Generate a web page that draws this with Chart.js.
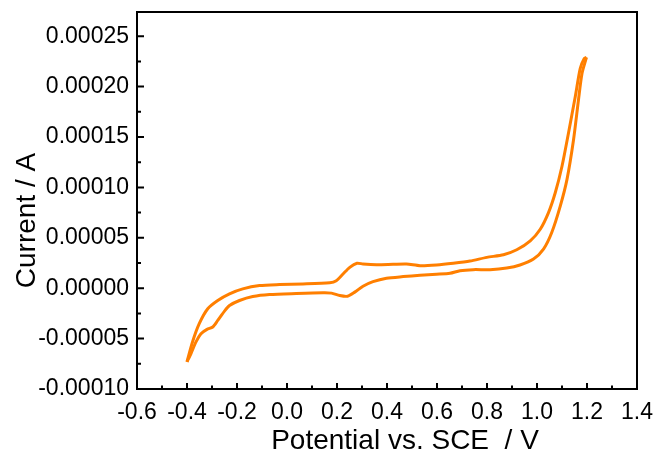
<!DOCTYPE html>
<html>
<head>
<meta charset="utf-8">
<script src="https://cdn.jsdelivr.net/npm/chart.js@4"></script>
<style>
  html, body { margin: 0; padding: 0; background: #fff; }
</style>
</head>
<body>
<canvas id="cv" width="662" height="456"></canvas>
<script>
// Cyclic voltammogram: anodic sweep (-0.4 V -> 1.2 V) and return sweep (1.2 V -> -0.4 V)
const anodicPotential = [-0.400, -0.378, -0.351, -0.317, -0.277, -0.230, -0.177, -0.110, -0.030, 0.064,
  0.171, 0.197, 0.224, 0.251, 0.280, 0.304, 0.358, 0.424, 0.478, 0.532, 0.598, 0.665, 0.732, 0.799,
  0.866, 0.919, 0.973, 1.013, 1.046, 1.073, 1.100, 1.126, 1.153, 1.173, 1.189, 1.198];
const anodicCurrent = [-7.30e-5, -5.33e-5, -3.52e-5, -2.04e-5, -1.22e-5, -0.56e-5, -0.07e-5, 0.26e-5, 0.36e-5, 0.42e-5,
  0.55e-5, 0.75e-5, 1.41e-5, 2.07e-5, 2.48e-5, 2.40e-5, 2.33e-5, 2.37e-5, 2.40e-5, 2.23e-5, 2.30e-5, 2.47e-5, 2.69e-5, 3.06e-5,
  3.32e-5, 3.81e-5, 4.70e-5, 5.85e-5, 7.50e-5, 9.47e-5, 1.21e-4, 1.54e-4, 1.90e-4, 2.18e-4, 2.28e-4, 2.29e-4];

const cathodicPotential = [1.198, 1.180, 1.166, 1.146, 1.120, 1.093, 1.059, 1.026, 0.986, 0.932, 0.879,
  0.812, 0.745, 0.692, 0.652, 0.598, 0.532, 0.465, 0.398, 0.344, 0.304, 0.271, 0.242, 0.211, 0.178,
  0.144, 0.037, -0.070, -0.137, -0.190, -0.230, -0.250, -0.277, -0.297, -0.320, -0.344, -0.364, -0.384, -0.400];
const cathodicCurrent = [2.29e-4, 2.13e-4, 1.87e-4, 1.47e-4, 1.08e-4, 8.15e-5, 5.53e-5, 3.88e-5, 2.89e-5, 2.30e-5, 2.00e-5,
  1.84e-5, 1.84e-5, 1.74e-5, 1.48e-5, 1.38e-5, 1.28e-5, 1.15e-5, 0.99e-5, 0.65e-5, 0.20e-5, -0.39e-5, -0.80e-5, -0.73e-5, -0.49e-5,
  -0.46e-5, -0.53e-5, -0.63e-5, -0.83e-5, -1.22e-5, -1.72e-5, -2.27e-5, -3.20e-5, -3.85e-5, -4.08e-5, -4.51e-5, -5.33e-5, -6.48e-5, -7.30e-5];

// Axis ticks (labelled majors and unlabelled minors)
const xTicks = [-0.6, -0.4, -0.2, 0.0, 0.2, 0.4, 0.6, 0.8, 1.0, 1.2, 1.4];
const xMinorTicks = [-0.5, -0.3, -0.1, 0.1, 0.3, 0.5, 0.7, 0.9, 1.1, 1.3];
const yTicks = [-0.0001, -0.00005, 0, 0.00005, 0.0001, 0.00015, 0.0002, 0.00025];
const yMinorTicks = [-0.000075, -0.000025, 0.000025, 0.000075, 0.000125, 0.000175, 0.000225];

const xTitle = 'Potential vs. SCE  / V';
const yTitle = 'Current / A';

const LINE_COLOR = '#ff7f00';
const FONT = 'Liberation Sans, Arial, sans-serif';

const toPoints = (xs, ys) => xs.map((x, i) => ({ x, y: ys[i] }));

// Boxed frame with inward tick marks, plus axis titles
const framePlugin = {
  id: 'frame',
  afterDraw(chart) {
    const { ctx, chartArea: a, scales: { x, y } } = chart;
    ctx.save();
    ctx.strokeStyle = '#000';
    ctx.lineWidth = 2;
    ctx.strokeRect(a.left, a.top, a.right - a.left, a.bottom - a.top);

    ctx.beginPath();
    xTicks.forEach(v => { const px = x.getPixelForValue(v); ctx.moveTo(px, a.bottom); ctx.lineTo(px, a.bottom - 6); });
    xMinorTicks.forEach(v => { const px = x.getPixelForValue(v); ctx.moveTo(px, a.bottom); ctx.lineTo(px, a.bottom - 3.5); });
    yTicks.forEach(v => { const py = y.getPixelForValue(v); ctx.moveTo(a.left, py); ctx.lineTo(a.left + 7, py); });
    yMinorTicks.forEach(v => { const py = y.getPixelForValue(v); ctx.moveTo(a.left, py); ctx.lineTo(a.left + 4, py); });
    ctx.stroke();

    ctx.fillStyle = '#000';
    ctx.font = '28px ' + FONT;
    ctx.textAlign = 'center';
    ctx.textBaseline = 'middle';
    ctx.fillText(xTitle, (a.left + a.right) / 2 + 18, a.bottom + 52);

    ctx.translate(a.left - 110, (a.top + a.bottom) / 2 + 20);
    ctx.rotate(-Math.PI / 2);
    ctx.fillText(yTitle, 0, 0);
    ctx.restore();
  }
};

const lineStyle = {
  showLine: true,
  borderColor: LINE_COLOR,
  backgroundColor: LINE_COLOR,
  borderWidth: 3,
  pointRadius: 0,
  tension: 0.25,
  fill: false
};

new Chart(document.getElementById('cv'), {
  type: 'scatter',
  data: {
    datasets: [
      { label: 'anodic', data: toPoints(anodicPotential, anodicCurrent), ...lineStyle },
      { label: 'cathodic', data: toPoints(cathodicPotential, cathodicCurrent), ...lineStyle }
    ]
  },
  options: {
    responsive: false,
    devicePixelRatio: 1,
    animation: false,
    layout: { padding: { top: 12, right: 25, left: 0, bottom: 0 } },
    plugins: { legend: { display: false }, tooltip: { enabled: false } },
    scales: {
      x: {
        type: 'linear',
        min: -0.6,
        max: 1.4,
        afterBuildTicks: s => { s.ticks = xTicks.map(v => ({ value: v })); },
        afterFit: s => { s.height = 67; s.paddingLeft = 0; s.paddingRight = 0; },
        grid: { display: false, drawTicks: false },
        border: { display: false },
        ticks: {
          autoSkip: false,
          maxRotation: 0,
          padding: 10,
          color: '#000',
          font: { family: FONT, size: 23 },
          callback: v => Number(v).toFixed(1)
        }
      },
      y: {
        type: 'linear',
        min: -0.0001,
        max: 0.000274,
        afterBuildTicks: s => { s.ticks = yTicks.map(v => ({ value: v })); },
        afterFit: s => { s.width = 137; s.paddingTop = 0; s.paddingBottom = 0; },
        grid: { display: false, drawTicks: false },
        border: { display: false },
        ticks: {
          autoSkip: false,
          padding: 8,
          color: '#000',
          font: { family: FONT, size: 23 },
          callback: v => Number(v).toFixed(5)
        }
      }
    }
  },
  plugins: [framePlugin]
});
</script>
</body>
</html>
